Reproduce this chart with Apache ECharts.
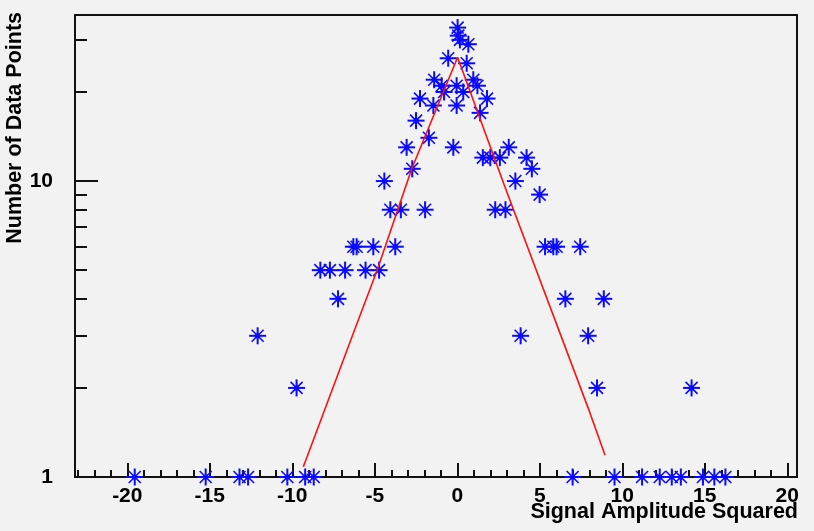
<!DOCTYPE html>
<html>
<head>
<meta charset="utf-8">
<script src="https://cdn.jsdelivr.net/npm/echarts@6/dist/echarts.min.js"></script>
<style>
html,body{margin:0;padding:0;background:#f2f2f2;}
#chart{width:814px;height:531px;}
</style>
</head>
<body>
<div id="chart"></div>
<script>
// ---- data ----
const sampleX = [
  -19.55, -15.25, -13.2, -12.68, -10.3, -9.22, -8.7, 6.99, 9.53, 11.2, 12.27, 13.0, 13.55, 14.89, 15.58, 16.25,
  -9.74, 8.47, 14.2,
  -12.1, 3.84, 7.93,
  -7.23, 6.55, 8.88,
  -8.3, -7.72, -6.8, -5.56, -4.74,
  -6.3, -6.1, -5.09, -3.76, 5.32, 5.82, 6.02, 7.45,
  -4.06, -3.42, -1.95, 2.3, 2.92,
  4.99,
  -4.42, 3.52,
  -2.73, 4.52,
  1.55, 2.0, 2.58, 4.2,
  -3.07, -0.24, 3.12,
  -1.72,
  -2.5,
  1.38,
  -1.45, -0.04,
  -2.26, 1.8,
  -0.8, 0.36,
  -0.95, -0.04, 1.22,
  -1.4, 0.97,
  0.57,
  -0.55,
  0.67,
  0.16,
  0.06,
  0.02
];
const sampleCount = [
  1, 1, 1, 1, 1, 1, 1, 1, 1, 1, 1, 1, 1, 1, 1, 1,
  2, 2, 2,
  3, 3, 3,
  4, 4, 4,
  5, 5, 5, 5, 5,
  6, 6, 6, 6, 6, 6, 6, 6,
  8, 8, 8, 8, 8,
  9,
  10, 10,
  11, 11,
  12, 12, 12, 12,
  13, 13, 13,
  14,
  16,
  17,
  18, 18,
  19, 19,
  20, 20,
  21, 21, 21,
  22, 22,
  25,
  26,
  29,
  30,
  31,
  33
];
const fitX = [-9.33, -6.0, -4.88, -2.76, 0.02, 2.89, 7.94, 8.95];
const fitY = [1.083, 3.39, 4.96, 11.0, 26.2, 9.55, 1.706, 1.187];

const xMajorTicks = [-20, -15, -10, -5, 0, 5, 10, 15, 20];
const xMinorTicks = [-23, -22, -21, -19, -18, -17, -16, -14, -13, -12, -11, -9, -8, -7, -6, -4, -3, -2, -1,
                     1, 2, 3, 4, 6, 7, 8, 9, 11, 12, 13, 14, 16, 17, 18, 19];
const yLabels = [1, 10];
const yMajorTicks = [10];
const yMinorTicks = [2, 3, 4, 5, 6, 7, 8, 9, 20, 30];

const xTitle = 'Signal Amplitude Squared';
const yTitle = 'Number of Data Points';

// ---- chart ----
const FONT = '"Liberation Sans", Arial, Helvetica, sans-serif';
const X_MIN = -23.17, X_MAX = 20.59, Y_MIN = 1, Y_MAX = 36.4;
const AXIS_COLOR = '#111';

const chart = echarts.init(document.getElementById('chart'), null, {renderer: 'canvas'});

const points = sampleX.map((x, i) => [x, sampleCount[i]]);
const fitData = fitX.map((x, i) => [x, fitY[i]]);

function renderStar(params, api) {
  const p = api.coord([api.value(0), api.value(1)]);
  const r = 8.5, d = 6;
  const c = '#0a0aff';
  return {
    type: 'group',
    children: [
      {type: 'line', shape: {x1: p[0] - r, y1: p[1], x2: p[0] + r, y2: p[1]}, style: {stroke: c, lineWidth: 2}},
      {type: 'line', shape: {x1: p[0], y1: p[1] - r, x2: p[0], y2: p[1] + r}, style: {stroke: c, lineWidth: 2}},
      {type: 'line', shape: {x1: p[0] - d, y1: p[1] - d, x2: p[0] + d, y2: p[1] + d}, style: {stroke: c, lineWidth: 1.6}},
      {type: 'line', shape: {x1: p[0] - d, y1: p[1] + d, x2: p[0] + d, y2: p[1] - d}, style: {stroke: c, lineWidth: 1.6}},
      {type: 'circle', shape: {cx: p[0], cy: p[1], r: 2.6}, style: {fill: c}}
    ]
  };
}

const labelStyle = {color: '#000', fontFamily: FONT, fontWeight: 'bold', fontSize: 21};

const option = {
  backgroundColor: '#f2f2f2',
  animation: false,
  grid: {
    left: 75, right: 17, top: 15, bottom: 54,
    show: true, borderColor: AXIS_COLOR, borderWidth: 2, backgroundColor: 'transparent',
    containLabel: false, outerBoundsMode: 'none'
  },
  xAxis: [
    {
      type: 'value', min: X_MIN, max: X_MAX, position: 'bottom',
      axisLine: {show: false, onZero: false},
      splitLine: {show: false},
      axisTick: {show: true, inside: true, length: 14, customValues: xMajorTicks,
                 lineStyle: {color: AXIS_COLOR, width: 2}},
      axisLabel: Object.assign({show: true, customValues: xMajorTicks, margin: 19, verticalAlign: 'middle',
                 formatter: v => String(v)}, labelStyle)
    },
    {
      type: 'value', min: X_MIN, max: X_MAX, position: 'bottom',
      axisLine: {show: false, onZero: false},
      splitLine: {show: false},
      axisTick: {show: true, inside: true, length: 7, customValues: xMinorTicks,
                 lineStyle: {color: AXIS_COLOR, width: 2}},
      axisLabel: {show: false}
    }
  ],
  yAxis: [
    {
      type: 'log', logBase: 10, min: Y_MIN, max: Y_MAX, position: 'left',
      axisLine: {show: false, onZero: false},
      splitLine: {show: false},
      axisTick: {show: true, inside: true, length: 23, customValues: yMajorTicks,
                 lineStyle: {color: AXIS_COLOR, width: 2}},
      axisLabel: Object.assign({show: true, customValues: yLabels, margin: 22, padding: [9, 0, 0, 0],
                 formatter: v => String(Math.round(v))}, labelStyle)
    },
    {
      type: 'log', logBase: 10, min: Y_MIN, max: Y_MAX, position: 'left',
      axisLine: {show: false, onZero: false},
      splitLine: {show: false},
      axisTick: {show: true, inside: true, length: 12, customValues: yMinorTicks,
                 lineStyle: {color: AXIS_COLOR, width: 2}},
      axisLabel: {show: false}
    }
  ],
  graphic: [
    {
      type: 'text', x: 798, y: 512,
      style: {text: xTitle, fill: '#000', font: 'bold 21.5px ' + FONT, textAlign: 'right', textVerticalAlign: 'middle'}
    },
    {
      type: 'text', x: 26, y: 12, rotation: Math.PI / 2,
      style: {text: yTitle, fill: '#000', font: 'bold 21.5px ' + FONT, textAlign: 'right', textVerticalAlign: 'bottom'}
    }
  ],
  series: [
    {
      type: 'custom', name: 'data', xAxisIndex: 0, yAxisIndex: 0,
      renderItem: renderStar, data: points, clip: false, z: 3,
      encode: {x: 0, y: 1}
    },
    {
      type: 'line', name: 'fit', xAxisIndex: 0, yAxisIndex: 0,
      data: fitData, showSymbol: false, symbol: 'none', z: 5,
      lineStyle: {color: '#ff1010', width: 1.6}
    }
  ]
};

chart.setOption(option);
</script>
</body>
</html>
